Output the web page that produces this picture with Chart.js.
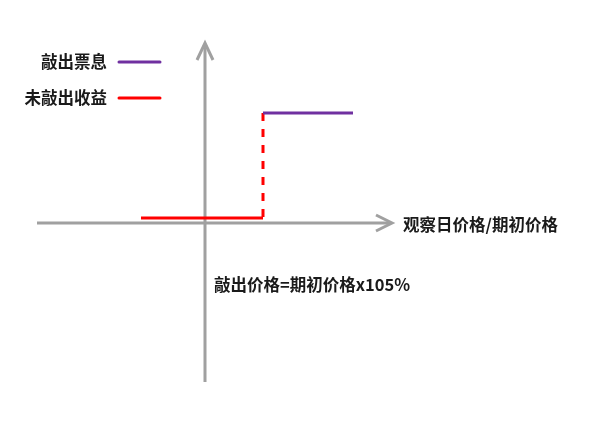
<!DOCTYPE html>
<html>
<head>
<meta charset="utf-8">
<script src="https://cdn.jsdelivr.net/npm/chart.js@4/dist/chart.umd.min.js"></script>
<style>
html,body{margin:0;padding:0;background:#fff;}
#wrap{width:600px;height:426px;position:relative;}
</style>
</head>
<body>
<div id="wrap"><canvas id="c"></canvas></div>
<script>
// Series labels
const seriesLabels = ['敲出票息', '未敲出收益'];
const seriesColors = ['#7030A0', '#FF0000'];
// Axis labels / annotation
const xAxisLabel = '观察日价格/期初价格';
const annotationText = '敲出价格=期初价格x105%';
// Payoff points (abstract units; origin at axis crossing)
const knockOutX = 5.8;
const couponLevel = 11;
const noKnockLevel = 0.5;
const redStartX = -6.4;
const purpleEndX = 14.8;
const redX = [redStartX, knockOutX];
const redY = [noKnockLevel, noKnockLevel];
const dashX = [knockOutX, knockOutX];
const dashY = [couponLevel, noKnockLevel];
const purpleX = [knockOutX, purpleEndX];
const purpleY = [couponLevel, couponLevel];
// Axis extents
const xAxisFrom = -16.8, xAxisTo = 18.7;
const yAxisFrom = -15.9, yAxisTo = 18.0;
const annotationPos = [0.9, -6.2];

const pts = (xs, ys) => xs.map((x, i) => ({x, y: ys[i]}));
const FONT = '"Noto Sans CJK SC", "Noto Sans", sans-serif';

const axesPlugin = {
  id: 'axesPlugin',
  beforeDatasetsDraw(chart) {
    const {ctx, scales: {x, y}} = chart;
    ctx.save();
    ctx.strokeStyle = '#a0a0a0';
    ctx.lineWidth = 3;
    ctx.lineCap = 'butt';
    const ox = x.getPixelForValue(0), oy = y.getPixelForValue(0);
    // x axis
    const x0 = x.getPixelForValue(xAxisFrom), x1 = x.getPixelForValue(xAxisTo);
    ctx.beginPath(); ctx.moveTo(x0, oy); ctx.lineTo(x1 - 1, oy); ctx.stroke();
    ctx.beginPath(); ctx.lineJoin = 'miter';
    ctx.moveTo(x1 - 16, oy - 8); ctx.lineTo(x1, oy); ctx.lineTo(x1 - 16, oy + 8); ctx.stroke();
    // y axis
    const y0 = y.getPixelForValue(yAxisFrom), y1 = y.getPixelForValue(yAxisTo);
    ctx.beginPath(); ctx.moveTo(ox, y0); ctx.lineTo(ox, y1 + 1); ctx.stroke();
    ctx.beginPath();
    ctx.moveTo(ox - 8, y1 + 17); ctx.lineTo(ox, y1); ctx.lineTo(ox + 8, y1 + 17); ctx.stroke();
    ctx.restore();
  },
  afterDatasetsDraw(chart) {
    const {ctx, scales: {x, y}} = chart;
    ctx.save();
    ctx.fillStyle = '#1a1a1a';
    ctx.font = 'bold 16.5px ' + FONT;
    ctx.textBaseline = 'middle';
    // x axis label
    ctx.textAlign = 'left';
    ctx.fillText(xAxisLabel, x.getPixelForValue(xAxisTo) + 11, y.getPixelForValue(0) + 2);
    // annotation
    ctx.fillText(annotationText, x.getPixelForValue(annotationPos[0]), y.getPixelForValue(annotationPos[1]));
    // legend
    const legY = [62, 98];
    seriesLabels.forEach((lab, i) => {
      ctx.textAlign = 'right';
      ctx.fillStyle = '#1a1a1a';
      ctx.fillText(lab, 107, legY[i]);
      ctx.strokeStyle = seriesColors[i];
      ctx.lineWidth = 3;
      ctx.lineCap = 'round';
      ctx.beginPath(); ctx.moveTo(119, legY[i]); ctx.lineTo(160, legY[i]); ctx.stroke();
    });
    ctx.restore();
  }
};

new Chart(document.getElementById('c'), {
  type: 'scatter',
  data: {
    datasets: [
      {label: seriesLabels[0], data: pts(purpleX, purpleY), showLine: true, borderColor: seriesColors[0], borderWidth: 3, pointRadius: 0, borderCapStyle: 'butt'},
      {label: seriesLabels[1], data: pts(redX, redY), showLine: true, borderColor: seriesColors[1], borderWidth: 3, pointRadius: 0, borderCapStyle: 'butt'},
      {label: seriesLabels[1] + '-dash', data: pts(dashX, dashY), showLine: true, borderColor: seriesColors[1], borderWidth: 3, pointRadius: 0, borderDash: [8, 8], borderCapStyle: 'butt'}
    ]
  },
  options: {
    responsive: true,
    maintainAspectRatio: false,
    animation: false,
    layout: {padding: 0},
    plugins: {legend: {display: false}, tooltip: {enabled: false}},
    scales: {
      x: {type: 'linear', display: false, min: -20.5, max: 39.5},
      y: {type: 'linear', display: false, min: -20.3, max: 22.3}
    }
  },
  plugins: [axesPlugin]
});
</script>
</body>
</html>
